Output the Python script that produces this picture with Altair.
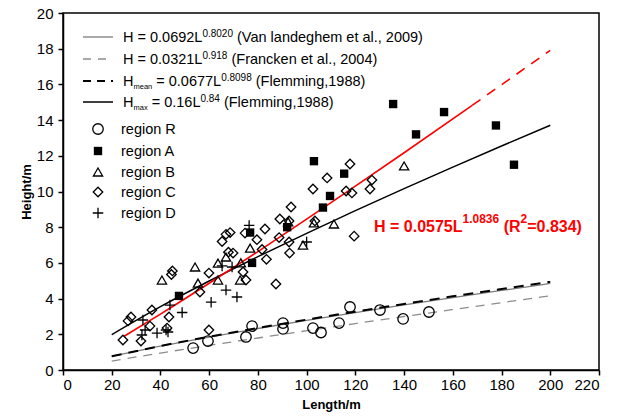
import altair as alt
import pandas as pd

FONT = "Liberation Sans, Arial"

# ---------------- scatter data (Length L / Height H) ----------------
R_L = [53.4, 59.5, 75.1, 77.6, 90.3, 90.3, 102.6, 105.9, 113.3, 117.8, 130.1, 139.6, 150.2]
R_H = [1.23, 1.62, 1.85, 2.46, 2.63, 2.30, 2.35, 2.10, 2.63, 3.53, 3.36, 2.86, 3.25]

A_L = [47.6, 76.8, 77.6, 92.0, 103.0, 106.7, 109.6, 115.4, 135.5, 144.9, 156.4, 177.7, 185.1]
A_H = [4.15, 7.7, 6.0, 8.0, 11.7, 9.1, 9.75, 11.0, 14.9, 13.2, 14.45, 13.7, 11.5]

B_L = [40.6, 54.2, 55.4, 63.6, 63.6, 66.9, 72.7, 73.0, 76.8, 92.4, 98.5, 103.0, 111.2, 140.0]
B_H = [5.04, 5.77, 4.87, 5.99, 5.04, 6.33, 5.04, 6.0, 6.83, 8.3, 7.0, 8.24, 8.18, 11.43]

C_L = [24.6, 26.7, 27.9, 32.0, 35.7, 36.5, 42.7, 43.5, 44.5, 44.9, 56.2, 59.9, 59.9,
       65.3, 66.9, 68.6, 67.9, 69.8, 73.9, 75.1, 74.7, 79.6, 82.9, 89.0, 92.8, 93.6,
       88.7, 92.8, 81.7, 93.0, 83.5, 87.4, 102.6, 103.4, 108.4, 116.2, 118.6, 117.8,
       126.8, 126.0, 119.5]
C_H = [1.68, 2.75, 2.97, 1.62, 2.46, 3.36, 2.35, 2.97, 5.35, 5.55, 4.37, 5.43, 2.24,
       7.2, 7.6, 7.7, 6.6, 6.55, 5.49, 5.04, 7.67, 7.3, 7.9, 8.46, 8.35, 9.13,
       7.42, 7.17, 6.75, 6.55, 6.2, 4.82, 10.14, 8.35, 10.76, 10.03, 9.92, 11.54,
       10.64, 10.14, 7.5]

D_L = [32.4, 32.8, 33.7, 38.6, 42.3, 43.1, 43.9, 48.9, 60.8, 66.9, 71.4, 69.4, 65.3, 76.4, 100.0]
D_H = [1.96, 2.8, 2.24, 2.07, 2.24, 2.13, 3.64, 3.22, 3.8, 4.48, 4.09, 5.77, 5.83, 8.1, 7.17]

# ---------------- curves ----------------
CURVE_L = [20, 40, 60, 80, 100, 120, 140, 160, 180, 200]
VAN_H = [0.765, 1.333, 1.846, 2.325, 2.781, 3.219, 3.643, 4.054, 4.455, 4.848]
FRA_H = [0.502, 0.949, 1.377, 1.793, 2.200, 2.601, 2.997, 3.387, 3.775, 4.157]
MEAN_H = [0.766, 1.343, 1.865, 2.354, 2.820, 3.269, 3.703, 4.126, 4.539, 4.941]
MAX_H = [1.981, 3.547, 4.986, 6.350, 7.658, 8.926, 10.158, 11.366, 12.549, 13.709]
FIT_L = [25, 40, 60, 80, 100, 120, 140, 168]
FIT_H = [1.881, 3.131, 4.858, 6.636, 8.450, 10.30, 12.17, 14.83]
EXT_L = [168, 180, 200]
EXT_H = [14.83, 15.98, 17.91]

# ---------------- text ----------------
LEGEND_ROWS = [
    [("H = 0.0692L", "n"), ("0.8020", "sup"), (" (Van landeghem et al., 2009)", "n")],
    [("H = 0.0321L", "n"), ("0.918", "sup"), (" (Francken et al., 2004)", "n")],
    [("H", "n"), ("mean", "sub"), (" = 0.0677L", "n"), ("0.8098", "sup"), (" (Flemming,1988)", "n")],
    [("H", "n"), ("max", "sub"), (" = 0.16L", "n"), ("0.84", "sup"), (" (Flemming,1988)", "n")],
]
REGION_LABELS = ["region R", "region A", "region B", "region C", "region D"]
FIT_TEXT = [("H = 0.0575L", "n"), ("1.0836", "sup"), (" (R", "n"), ("2", "sup"), ("=0.834)", "n")]

# ---------------- layout helpers ----------------
W, H = 536, 357
OX, OY = 63, 13  # plot-area origin in the page

REG = {' ': 278, '(': 333, ')': 333, ',': 278, '.': 278, '/': 278, '=': 584,
       'A': 667, 'F': 611, 'H': 722, 'L': 556, 'R': 722, 'V': 667, 'a': 556, 'b': 556,
       'c': 500, 'd': 556, 'e': 556, 'g': 556, 'h': 556, 'i': 222, 'k': 500, 'l': 222,
       'm': 833, 'n': 556, 'o': 556, 'r': 333, 's': 500, 't': 278, 'x': 500}
BOLD = {' ': 278, '(': 333, ')': 333, '.': 278, '=': 584, 'H': 722, 'L': 611, 'R': 722}
for d in "0123456789":
    REG[d] = 556
    BOLD[d] = 556


def width(s, size, bold=False):
    tab = BOLD if bold else REG
    return sum(tab.get(c, 556) for c in s) * size / 1000.0


def layout(segments, x0, base, sizes, bold=False, sup_dy=-5):
    rows = []
    x = x0
    for txt, kind in segments:
        fs = sizes[kind]
        dy = {"n": 0, "sup": sup_dy, "sub": 3}[kind]
        stripped = txt.lstrip(" ")
        lead = width(txt[: len(txt) - len(stripped)], fs, bold)
        rows.append({"px": x + lead - OX, "py": base + dy - OY, "t": stripped, "fs": fs})
        x += width(txt, fs, bold)
    return rows


leg_rows = []
LEG_BASE = [42, 64, 86, 107]
for segs, b in zip(LEGEND_ROWS, LEG_BASE):
    leg_rows += layout(segs, 123, b, {"n": 14.5, "sup": 10, "sub": 7.5})
REG_BASE = [134, 156, 177, 197, 218]
for lab, b in zip(REGION_LABELS, REG_BASE):
    leg_rows.append({"px": 121 - OX, "py": b - OY, "t": lab, "fs": 14.5})
legend_df = pd.DataFrame(leg_rows)
fit_df = pd.DataFrame(layout(FIT_TEXT, 374, 232, {"n": 16, "sup": 12}, bold=True, sup_dy=-9))

# ---------------- chart ----------------
xs = alt.Scale(domain=[0, 220], nice=False, zero=False)
ys = alt.Scale(domain=[0, 20], nice=False, zero=False)
xax = alt.Axis(values=list(range(0, 221, 20)), title="Length/m", grid=False)
yax = alt.Axis(values=list(range(0, 21, 2)), title="Height/m", grid=False,
               titleX=-30, titleY=H / 2, labelPadding=5)


def curve(L, Hs, color, sw, dash=None):
    df = pd.DataFrame({"L": L, "H": Hs})
    kw = dict(color=color, strokeWidth=sw, interpolate="monotone")
    if dash:
        kw["strokeDash"] = dash
    return alt.Chart(df).mark_line(**kw).encode(
        x=alt.X("L:Q", scale=xs, axis=xax), y=alt.Y("H:Q", scale=ys, axis=yax))


def pts(L, Hs, shape, size, filled=False):
    df = pd.DataFrame({"L": L, "H": Hs})
    if filled:
        m = alt.Chart(df).mark_point(shape=shape, size=size, filled=True, color="black", opacity=1)
    else:
        m = alt.Chart(df).mark_point(shape=shape, size=size, filled=False, stroke="black",
                                     strokeWidth=1.3, opacity=1)
    return m.encode(x=alt.X("L:Q", scale=xs, axis=xax), y=alt.Y("H:Q", scale=ys, axis=yax))


CROSS = "M-1,0L1,0M0,-1L0,1"
one = pd.DataFrame({"a": [0]})


def leg_line(y, color, sw, dash=None):
    kw = dict(color=color, strokeWidth=sw)
    if dash:
        kw["strokeDash"] = dash
    return alt.Chart(one).mark_rule(**kw).encode(
        x=alt.value(83 - OX), x2=alt.value(113 - OX), y=alt.value(y - OY))


def leg_sym(y, shape, size, filled=False):
    if filled:
        m = alt.Chart(one).mark_point(shape=shape, size=size, filled=True, color="black", opacity=1)
    else:
        m = alt.Chart(one).mark_point(shape=shape, size=size, filled=False, stroke="black",
                                      strokeWidth=1.3, opacity=1)
    return m.encode(x=alt.value(98 - OX), y=alt.value(y - OY))


layers = [
    curve(CURVE_L, FRA_H, "#8c8c8c", 1.3, [9, 7]),
    curve(CURVE_L, VAN_H, "#7a7a7a", 1.3),
    curve(CURVE_L, MEAN_H, "black", 2.0, [10, 7]),
    curve(CURVE_L, MAX_H, "black", 1.5),
    curve(FIT_L, FIT_H, "#ff0000", 1.6),
    curve(EXT_L, EXT_H, "#ff0000", 1.6, [10, 8]),
    pts(R_L, R_H, "circle", 110),
    pts(A_L, A_H, "square", 70, filled=True),
    pts(B_L, B_H, "triangle-up", 85),
    pts(C_L, C_H, "diamond", 90),
    pts(D_L, D_H, CROSS, 110),
    leg_line(37, "#7a7a7a", 1.3),
    leg_line(59, "#8c8c8c", 1.3, [8, 7]),
    leg_line(81, "black", 2.0, [8, 6]),
    leg_line(102, "black", 1.5),
    leg_sym(129, "circle", 110),
    leg_sym(151, "square", 70, filled=True),
    leg_sym(172, "triangle-up", 85),
    leg_sym(192, "diamond", 90),
    leg_sym(213, CROSS, 110),
    alt.Chart(legend_df).mark_text(align="left", baseline="alphabetic", font=FONT,
                                   color="black").encode(
        x=alt.X("px:Q", scale=None, axis=None), y=alt.Y("py:Q", scale=None, axis=None),
        text="t:N", size=alt.Size("fs:Q", scale=None, legend=None)),
    alt.Chart(fit_df).mark_text(align="left", baseline="alphabetic", font=FONT,
                                fontWeight="bold", color="#ff0000").encode(
        x=alt.X("px:Q", scale=None, axis=None), y=alt.Y("py:Q", scale=None, axis=None),
        text="t:N", size=alt.Size("fs:Q", scale=None, legend=None)),
]

chart = alt.layer(*layers).properties(
    width=W, height=H,
    padding={"left": OX, "top": OY, "right": 623 - OX - W, "bottom": 416 - OY - H},
    autosize=alt.AutoSizeParams(type="none"),
    background="white",
).configure_view(
    stroke="black", strokeWidth=1.5
).configure_axis(
    labelFont=FONT, labelFontSize=15, labelColor="black",
    titleFont=FONT, titleFontSize=13, titleFontWeight="bold", titleColor="black",
    domainColor="black", domainWidth=1.5, tickColor="black", tickWidth=1.5, tickSize=5,
    labelPadding=2,
).configure_axisX(titlePadding=6)

chart.save("out.html", embed_options={"renderer": "svg", "actions": False})
